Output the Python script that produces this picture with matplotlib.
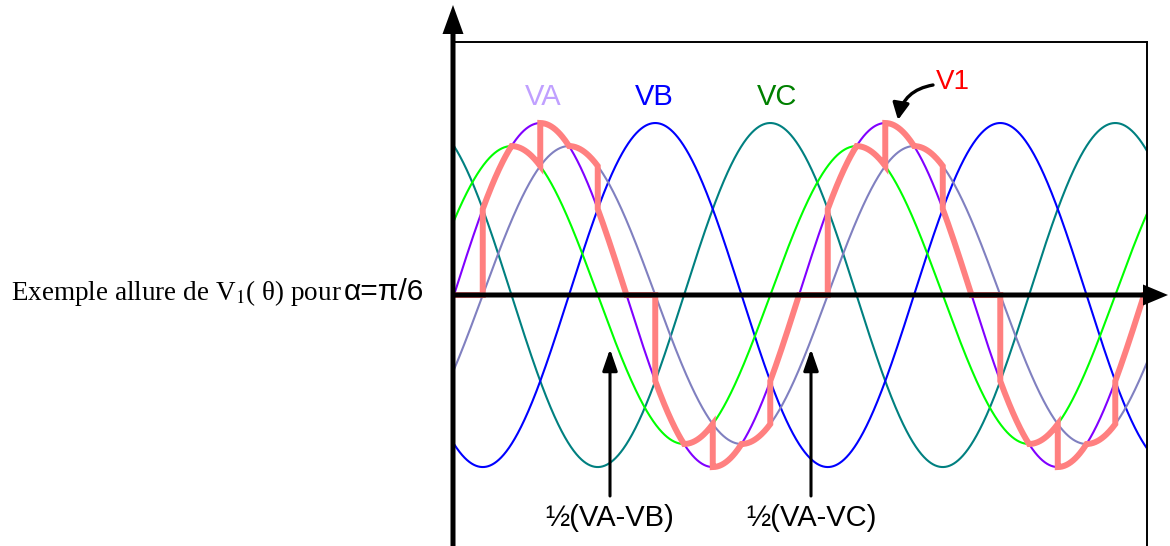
import matplotlib
matplotlib.use("Agg")
import matplotlib.pyplot as plt
import numpy as np
from matplotlib.patches import FancyArrow

# --- data ------------------------------------------------------------------
# three phase voltages, per unit amplitude, lag in degrees
PHASES = ["VA", "VB", "VC"]
PHASE_LAG_DEG = [0, 120, 240]
AMPLITUDE = 1.0

# half line-to-line references: (name, first phase, second phase)
HALF_DIFFS = [("½(VA-VB)", "VA", "VB"), ("½(VA-VC)", "VA", "VC")]

# V1 for alpha = pi/6, one period: interval starts (deg) and the curve V1 follows
ALPHA_DEG = 30
V1_START_DEG = [0, 30, 60, 90, 120, 150, 180, 210, 240, 270, 300, 330]
V1_SOURCE = ["0", "VA", "½(VA-VB)", "VA", "½(VA-VC)", "VA",
             "0", "VA", "½(VA-VB)", "VA", "½(VA-VC)", "VA"]
N_PERIODS = 2
THETA_MAX_DEG = 724

# --- style -----------------------------------------------------------------
COLORS = {"VA": "#8000ff", "VB": "#0000ff", "VC": "#008080",
          "½(VA-VB)": "#00ff00", "½(VA-VC)": "#8080c0", "V1": "#ff8080"}
W, H = 1170, 546
SANS = "Liberation Sans"
SERIF = "Liberation Serif"
plt.rcParams["mathtext.fontset"] = "stix"


def curve(name, theta):
    """Value of a named curve at theta (degrees)."""
    if name == "0":
        return np.zeros_like(theta)
    if name in PHASES:
        lag = PHASE_LAG_DEG[PHASES.index(name)]
        return AMPLITUDE * np.sin(np.radians(theta - lag))
    for label, a, b in HALF_DIFFS:
        if label == name:
            return 0.5 * (curve(a, theta) - curve(b, theta))
    raise KeyError(name)


fig = plt.figure(figsize=(W / 100, H / 100), dpi=100)
ax = fig.add_axes([453 / W, 0, 694 / W, 504 / H])
ax.set_xlim(-1.04, 723.1)
ax.set_ylim(-1.459, 1.471)
ax.set_xticks([])
ax.set_yticks([])
for side in ("left", "bottom"):
    ax.spines[side].set_visible(False)
for side in ("top", "right"):
    ax.spines[side].set_linewidth(1.4)

theta = np.linspace(0, THETA_MAX_DEG, 3000)
for name in ["VC", "VB", "½(VA-VC)", "VA", "½(VA-VB)"]:
    ax.plot(theta, curve(name, theta), color=COLORS[name], lw=1.5, zorder=2)

# V1: concatenate the pieces so every switch is a vertical jump
xs, ys = [], []
ends = V1_START_DEG[1:] + [360]
for k in range(N_PERIODS + 1):
    for start, end, src in zip(V1_START_DEG, ends, V1_SOURCE):
        t = np.linspace(start, end, 40) + 360 * k
        xs.append(t)
        ys.append(curve(src, t))
ax.plot(np.concatenate(xs), np.concatenate(ys), color=COLORS["V1"], lw=4.3,
        solid_joinstyle="miter", zorder=3)

# --- overlay in pixel coordinates for axes arrows and labels ----------------
ov = fig.add_axes([0, 0, 1, 1], zorder=5)
ov.set_xlim(0, W)
ov.set_ylim(H, 0)
ov.set_axis_off()
ov.patch.set_alpha(0)

ov.add_patch(FancyArrow(453, H, 0, 5 - H, width=5, head_width=21, head_length=29,
                        length_includes_head=True, color="black", lw=0))
ov.add_patch(FancyArrow(453, 295, 1168 - 453, 0, width=5, head_width=21,
                        head_length=25, length_includes_head=True,
                        color="black", lw=0))

ov.text(11, 300, "Exemple allure de V$_1$( θ) pour", family=SERIF,
        fontsize=19.5, ha="left", va="baseline")
ov.text(344, 300, "α=π/6", family=SANS, fontsize=21.5, ha="left", va="baseline")

ov.text(543, 97, "VA", color="#c0a0ff", family=SANS, fontsize=21,
        ha="center", va="center")
ov.text(654, 97, "VB", color="#0000ff", family=SANS, fontsize=21,
        ha="center", va="center")
ov.text(777, 97, "VC", color="#008000", family=SANS, fontsize=21,
        ha="center", va="center")
ov.text(953, 82, "V1", color="#ff0000", family=SANS, fontsize=20,
        ha="center", va="center")
ov.annotate("", xy=(898, 120), xytext=(933, 85),
            arrowprops=dict(arrowstyle="-|>,head_length=1.0,head_width=0.5",
                            connectionstyle="arc3,rad=0.35", color="black",
                            lw=2.4, shrinkA=0, shrinkB=0))

for x, label in [(610, "½(VA-VB)"), (811, "½(VA-VC)")]:
    ov.annotate("", xy=(x, 349), xytext=(x, 496),
                arrowprops=dict(arrowstyle="-|>,head_length=1.3,head_width=0.45",
                                color="black", lw=2.2, shrinkA=0, shrinkB=0))
    ov.text(x, 518, label, family=SANS, fontsize=21, ha="center", va="center")

fig.savefig("out.png", dpi=100)
